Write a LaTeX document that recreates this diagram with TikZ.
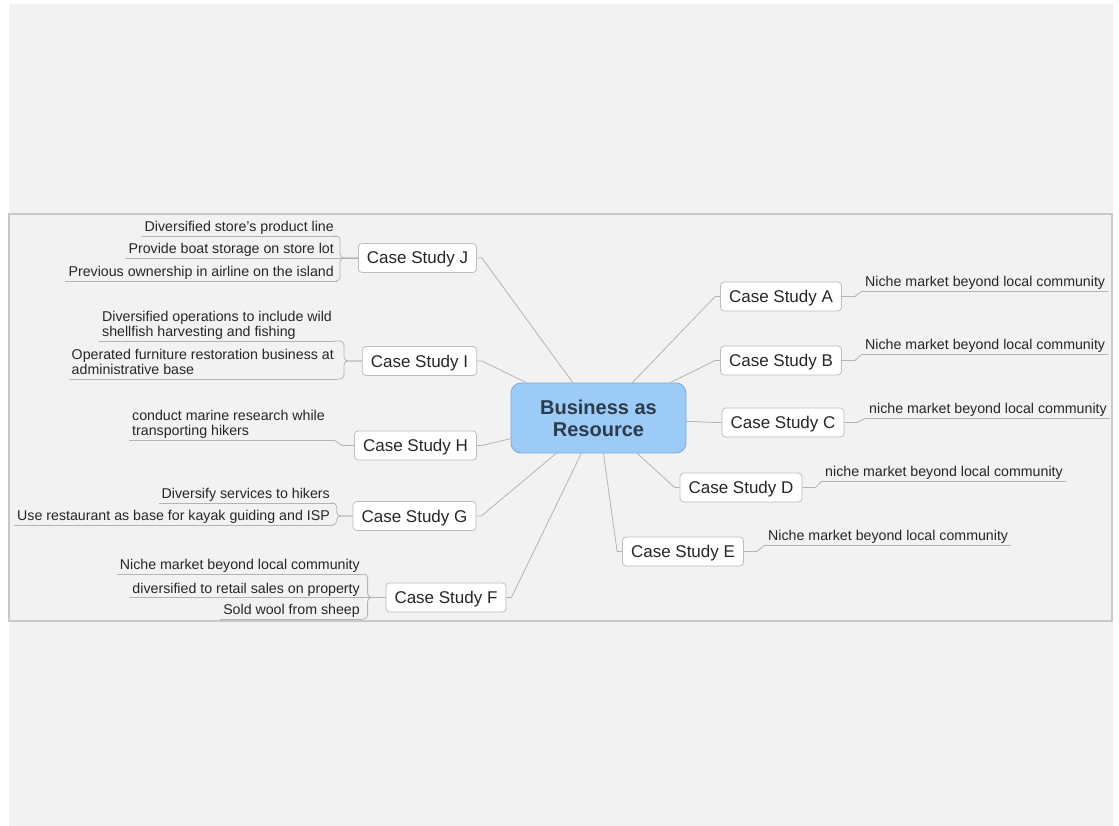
\documentclass[tikz,border=0pt]{standalone}
\usepackage{fontspec}
\setmainfont{Liberation Sans}
\definecolor{pagebg}{HTML}{F2F2F2}
\definecolor{framec}{HTML}{C8C8C8}
\definecolor{linkc}{HTML}{B4B4B4}
\definecolor{boxline}{HTML}{BDBDBD}
\definecolor{hubfill}{HTML}{9DCBF8}
\definecolor{hubline}{HTML}{7FA7D3}
\definecolor{hubtext}{HTML}{2B3B4C}
\definecolor{inkc}{HTML}{262626}
% keeps the underline a fixed distance below the last baseline
\newcommand\dstrut{\rule[-4pt]{0pt}{4pt}}
\begin{document}
\begin{tikzpicture}[x=1pt,y=-1pt,
  hub/.style={draw=hubline, line width=0.8pt, fill=hubfill, rounded corners=10pt,
    minimum width=175pt, minimum height=70pt, align=center, text=hubtext,
    font=\fontsize{20}{22}\selectfont\bfseries},
  casebox/.style={draw=boxline, line width=0.8pt, fill=white, rounded corners=3.5pt,
    minimum height=29pt, inner xsep=8.5pt, text height=12pt, text depth=0pt,
    text=inkc, font=\fontsize{17}{20}\selectfont},
  leaf/.style={inner xsep=3pt, inner ysep=0pt, text=inkc,
    font=\fontsize{14.2}{15.5}\selectfont},
  leafL/.style={leaf, anchor=south east, align=left},
  leafLW/.style={leaf, anchor=south west, align=left},
  leafR/.style={leaf, anchor=south west},
  link/.style={draw=linkc, line width=0.8pt},
  uline/.style={draw=linkc, line width=0.8pt},
  bracket/.style={link, rounded corners=4pt}
]
\useasboundingbox (0,0) rectangle (1119,826);
\fill[pagebg] (9,4) rectangle (1113,826);
\draw[framec, line width=1.5pt] (9,214) rectangle (1112,621);

% central topic
\node[hub] (hub) at (598.5,418) {Business as\\Resource};

% main topics
\node[casebox] (J) at (417.5,258) {Case Study J};
\node[casebox] (I) at (419.5,361) {Case Study I};
\node[casebox] (H) at (415.5,445.5) {Case Study H};
\node[casebox] (G) at (414.5,516) {Case Study G};
\node[casebox] (F) at (446,597.5) {Case Study F};
\node[casebox] (A) at (781,296.5) {Case Study A};
\node[casebox] (B) at (781,360.5) {Case Study B};
\node[casebox] (C) at (783,422.5) {Case Study C};
\node[casebox] (D) at (741,487.5) {Case Study D};
\node[casebox] (E) at (683,551.5) {Case Study E};

% spokes
\foreach \t in {J,I,H,G,F} \draw[link] (\t.east) -- ++(5,0) -- (hub);
\foreach \t in {A,B,C,D,E} \draw[link] (\t.west) -- ++(-5,0) -- (hub);

% left-hand subtopics
\node[leafL] (j1) at (337,236) {Diversified store's product line\dstrut};
\node[leafL] (j2) at (337,258) {Provide boat storage on store lot\dstrut};
\node[leafL] (j3) at (337,281) {Previous ownership in airline on the island\dstrut};
\node[leafLW] (i1) at (99,341) {Diversified operations to include wild\\shellfish harvesting and fishing\dstrut};
\node[leafL] (i2) at (337,379) {Operated furniture restoration business at\\administrative base\dstrut};
\node[leafLW] (h1) at (129,440) {conduct marine research while\\transporting hikers\dstrut};
\coordinate (h1end) at ([xshift=6pt]h1.south east);
\node[leafL] (g1) at (333,503) {Diversify services to hikers\dstrut};
\node[leafL] (g2) at (333,525) {Use restaurant as base for kayak guiding and ISP\dstrut};
\node[leafL] (f1) at (363,574) {Niche market beyond local community\dstrut};
\node[leafL] (f2) at (363,597.5) {diversified to retail sales on property\dstrut};
\node[leafL] (f3) at (363,619) {Sold wool from sheep\dstrut};

% right-hand subtopics
\node[leafR] (a1) at (862,291) {Niche market beyond local community\dstrut};
\node[leafR] (b1) at (862,354) {Niche market beyond local community\dstrut};
\node[leafR] (c1) at (866,418) {niche market beyond local community\dstrut};
\node[leafR] (d1) at (822,481) {niche market beyond local community\dstrut};
\node[leafR] (e1) at (765,545) {Niche market beyond local community\dstrut};

% underlines
\foreach \n in {j1,j2,j3,i1,i2,g1,g2,f1,f2,f3,a1,b1,c1,d1,e1}
  \draw[uline] (\n.south west) -- (\n.south east);
\draw[uline] (h1.south west) -- (h1end);

% brackets and elbows to subtopics
\draw[bracket] (J.west) -- ++(-18,0) |- (j1.south east);
\draw[bracket] (J.west) -- ++(-18,0) |- (j3.south east);
\draw[link] (J.west) -- (j2.south east);
\draw[bracket] (I.west) -- ++(-18,0) |- (i1.south east);
\draw[bracket] (I.west) -- ++(-18,0) |- (i2.south east);
\draw[link] (H.west) -- ++(-12,0) -- (h1end);
\draw[bracket] (G.west) -- ++(-16,0) |- (g1.south east);
\draw[bracket] (G.west) -- ++(-16,0) |- (g2.south east);
\draw[bracket] (F.west) -- ++(-18,0) |- (f1.south east);
\draw[bracket] (F.west) -- ++(-18,0) |- (f3.south east);
\draw[link] (F.west) -- (f2.south east);
\draw[link] (A.east) -- ++(13,0) -- (a1.south west);
\draw[link] (B.east) -- ++(13,0) -- (b1.south west);
\draw[link] (C.east) -- ++(13,0) -- (c1.south west);
\draw[link] (D.east) -- ++(13,0) -- (d1.south west);
\draw[link] (E.east) -- ++(13,0) -- (e1.south west);
\end{tikzpicture}
\end{document}
